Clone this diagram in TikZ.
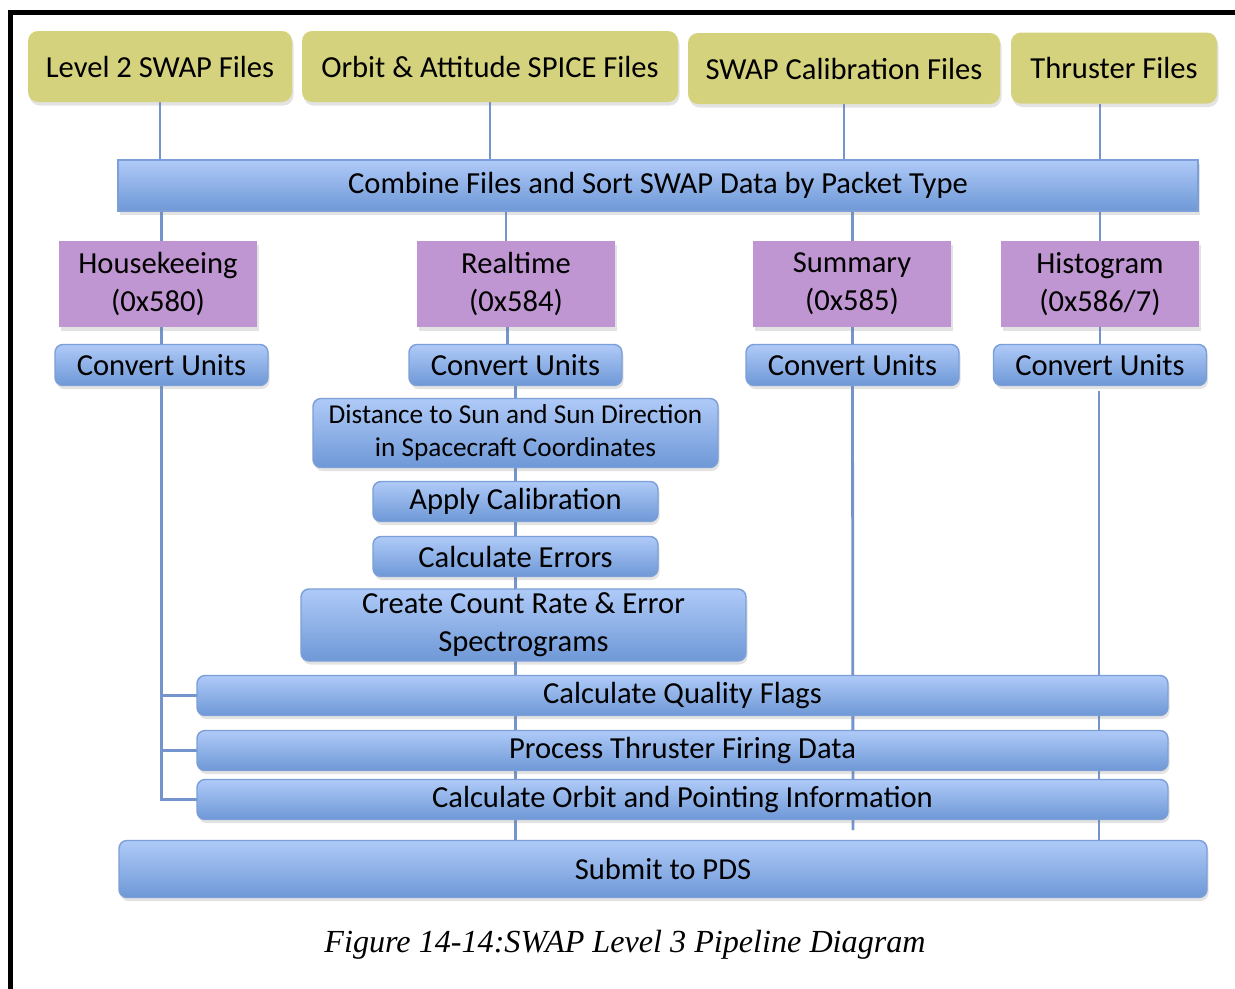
\documentclass[tikz,border=0pt]{standalone}
\usepackage{fontspec}
\setmainfont{Carlito}
\newfontfamily\capfont{Liberation Serif}
\usetikzlibrary{shadows,backgrounds}
\definecolor{fileolive}{HTML}{D5D27E}
\definecolor{pktpurple}{HTML}{BF96D1}
\definecolor{steptop}{HTML}{AFCAF8}
\definecolor{stepbot}{HTML}{6E98D6}
\definecolor{stepedge}{HTML}{7C9FD8}
\definecolor{linkblue}{HTML}{7394CC}

\begin{document}
\begin{tikzpicture}[every node/.style={inner sep=0pt, outer sep=0pt, align=center, font=\fontsize{17.4}{21.5}\selectfont},
  softshadow/.style={drop shadow={opacity=0.22, shadow xshift=0.03cm, shadow yshift=-0.07cm}},
  filebox/.style={fill=fileolive, rounded corners=0.2cm, softshadow},
  pktbox/.style={fill=pktpurple, softshadow},
  stepbox/.style={draw=stepedge, line width=0.8pt, top color=steptop, bottom color=stepbot, rounded corners=0.16cm, softshadow},
  barbox/.style={stepbox, sharp corners},
  link/.style={draw=linkblue, line width=1.6pt}]
\useasboundingbox (0,0) rectangle (24.7,-19.76);
\draw[line width=3.1pt, miter limit=10] (0.206,-20) -- (0.206,-0.25) -- (25,-0.25);

\node[filebox, minimum width=5.28cm, minimum height=1.42cm] (lvltwo) at (3.2,-1.33) {Level 2 SWAP Files};
\node[filebox, minimum width=7.52cm, minimum height=1.42cm] (orbitspice) at (9.8,-1.33) {Orbit \& Attitude SPICE Files};
\node[filebox, minimum width=6.24cm, minimum height=1.42cm] (calib) at (16.88,-1.37) {SWAP Calibration Files};
\node[filebox, minimum width=4.12cm, minimum height=1.42cm] (thruster) at (22.28,-1.36) {Thruster Files};

\node[barbox, minimum width=21.6cm, minimum height=1.02cm] (combine) at (13.16,-3.71) {Combine Files and Sort SWAP Data by Packet Type};

\node[pktbox, minimum width=3.96cm, minimum height=1.72cm] (house) at (3.16,-5.68) {Housekeeing\\(0x580)};
\node[pktbox, minimum width=3.96cm, minimum height=1.72cm] (realtime) at (10.32,-5.68) {Realtime\\(0x584)};
\node[pktbox, minimum width=3.96cm, minimum height=1.72cm] (summary) at (17.04,-5.68) {Summary\\(0x585)};
\node[pktbox, minimum width=3.96cm, minimum height=1.72cm] (histo) at (22.0,-5.68) {Histogram\\(0x586/7)};

\node[stepbox, minimum width=4.26cm, minimum height=0.82cm] (hkconv) at (3.23,-7.3) {Convert Units};
\node[stepbox, minimum width=4.26cm, minimum height=0.82cm] (rtconv) at (10.31,-7.3) {Convert Units};
\node[stepbox, minimum width=4.26cm, minimum height=0.82cm] (sumconv) at (17.05,-7.3) {Convert Units};
\node[stepbox, minimum width=4.26cm, minimum height=0.82cm] (histconv) at (22.0,-7.3) {Convert Units};

\node[stepbox, minimum width=8.1cm, minimum height=1.38cm, font=\fontsize{15.5}{19}\selectfont] (sundist) at (10.31,-8.66) {Distance to Sun and Sun Direction\\in Spacecraft Coordinates};
\node[stepbox, minimum width=5.7cm, minimum height=0.8cm] (applycal) at (10.31,-10.03) {Apply Calibration};
\node[stepbox, minimum width=5.7cm, minimum height=0.8cm] (errors) at (10.31,-11.13) {Calculate Errors};
\node[stepbox, minimum width=8.9cm, minimum height=1.44cm] (spectro) at (10.47,-12.5) {Create Count Rate \& Error\\Spectrograms};

\node[stepbox, minimum width=19.42cm, minimum height=0.8cm] (quality) at (13.65,-13.91) {Calculate Quality Flags};
\node[stepbox, minimum width=19.42cm, minimum height=0.8cm] (thrfire) at (13.65,-15.01) {Process Thruster Firing Data};
\node[stepbox, minimum width=19.42cm, minimum height=0.8cm] (pointing) at (13.65,-15.99) {Calculate Orbit and Pointing Information};
\node[stepbox, minimum width=21.76cm, minimum height=1.14cm] (submit) at (13.26,-17.38) {Submit to PDS};

\node[font=\capfont\itshape\fontsize{18.3}{22}\selectfont] (caption) at (12.5,-18.9) {Figure 14-14:SWAP Level 3 Pipeline Diagram};

\coordinate (sumend) at (17.06,-16.6);
\coordinate (histstart) at (21.98,-7.82);

\begin{scope}[on background layer]
\fill[white] (0,0) rectangle (24.7,-19.76);
\draw[link] (lvltwo.south) -- (lvltwo.south |- combine.north);
\draw[link] (orbitspice.south) -- (orbitspice.south |- combine.north);
\draw[link] (calib.south) -- (calib.south |- combine.north);
\draw[link] (thruster.south -| histo.north) -- (combine.north -| histo.north);

\draw[link] (combine.south -| hkconv.north) -- (house.north -| hkconv.north);
\draw[link] ([xshift=-0.2cm]realtime.north |- combine.south) -- ([xshift=-0.2cm]realtime.north);
\draw[link] (combine.south -| sumconv.north) -- (summary.north -| sumconv.north);
\draw[link] (combine.south -| histo.north) -- (histo.north);

\draw[link] (house.south -| hkconv.north) -- (hkconv.north);
\draw[link] ([xshift=-0.17cm]realtime.south) -- ([xshift=-0.17cm]realtime.south |- rtconv.north);
\draw[link] (summary.south -| sumconv.north) -- (sumconv.north);
\draw[link] (histo.south) -- (histconv.north);

\foreach \a/\b in {rtconv/sundist, sundist/applycal, applycal/errors, errors/spectro}
  \draw[link] (\a.south) -- (\a.south |- \b.north);
\draw[link] (errors.south |- spectro.south) -- (errors.south |- submit.north);

\draw[link] (hkconv.south) |- (pointing.west);
\draw[link] (hkconv.south |- quality.west) -- (quality.west);
\draw[link] (hkconv.south |- thrfire.west) -- (thrfire.west);

\draw[link] (sumconv.south) -- (sumend);
\draw[link] (histstart) -- (histstart |- submit.north);
\end{scope}
\end{tikzpicture}
\end{document}
